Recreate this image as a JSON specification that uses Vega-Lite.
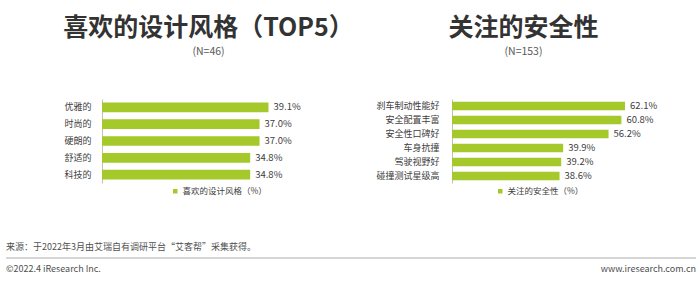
{
  "$schema": "https://vega.github.io/schema/vega-lite/v6.json",
  "background": "white",
  "padding": {"left": 5, "right": 5, "top": 15, "bottom": 5},
  "bounds": "flush",
  "spacing": 148,
  "config": {
    "font": "Noto Sans CJK SC",
    "view": {"stroke": null},
    "axis": {"grid": false, "ticks": false, "domainColor": "#bfbfbf", "domainWidth": 1, "labelFont": "Noto Sans CJK SC", "labelFontSize": 9, "labelColor": "#404040"},
    "legend": {"padding": 0, "labelFont": "Noto Sans CJK SC", "labelFontSize": 8.5, "labelColor": "#404040", "symbolType": "square", "symbolSize": 20, "symbolStrokeWidth": 0, "labelOffset": 3, "title": null}
  },
  "resolve": {"scale": {"x": "independent", "y": "independent", "color": "independent"}, "legend": {"color": "independent"}},
  "datasets": {
    "style": [
      {"item": "优雅的", "share": 0.391},
      {"item": "时尚的", "share": 0.370},
      {"item": "硬朗的", "share": 0.370},
      {"item": "舒适的", "share": 0.348},
      {"item": "科技的", "share": 0.348}
    ],
    "safety": [
      {"item": "刹车制动性能好", "share": 0.621},
      {"item": "安全配置丰富", "share": 0.608},
      {"item": "安全性口碑好", "share": 0.562},
      {"item": "车身抗撞", "share": 0.399},
      {"item": "驾驶视野好", "share": 0.392},
      {"item": "碰撞测试星级高", "share": 0.386}
    ],
    "footer": [
      {"row": "source", "side": "left", "text": "来源：于2022年3月由艾瑞自有调研平台“艾客帮”采集获得。"},
      {"row": "copyright", "side": "left", "text": "©2022.4 iResearch Inc."},
      {"row": "copyright", "side": "right", "text": "www.iresearch.com.cn"}
    ]
  },
  "vconcat": [
    {
      "hconcat": [
        {
          "width": 345,
          "height": 84,
          "title": {"text": "喜欢的设计风格（TOP5）", "subtitle": "(N=46)", "font": "Noto Sans CJK SC", "fontSize": 25, "fontWeight": "bold", "color": "#333333", "subtitleFont": "Noto Sans CJK SC", "subtitleFontSize": 10.5, "subtitleColor": "#595959", "subtitlePadding": 6, "offset": 42, "anchor": "middle", "dx": 30},
          "data": {"name": "style"},
          "encoding": {
            "y": {"field": "item", "type": "nominal", "sort": null, "scale": {"paddingInner": 0.42, "paddingOuter": 0.21}, "axis": {"title": null, "offset": -96, "labelPadding": 11}},
            "x": {"field": "share", "type": "quantitative", "scale": {"domain": [-0.2255, 0.5848], "nice": false, "zero": false}, "axis": null}
          },
          "layer": [
            {
              "mark": {"type": "bar"},
              "encoding": {"color": {"datum": "喜欢的设计风格（%）", "type": "nominal", "scale": {"range": ["#A5C82A"]}, "legend": {"orient": "none", "legendX": 165, "legendY": 88}}}
            },
            {
              "mark": {"type": "text", "align": "left", "baseline": "middle", "dx": 5, "fontSize": 9.5, "color": "#404040"},
              "encoding": {"text": {"field": "share", "format": ".1%"}}
            }
          ]
        },
        {
          "width": 345,
          "height": 84,
          "title": {"text": "关注的安全性", "subtitle": "(N=153)", "font": "Noto Sans CJK SC", "fontSize": 25, "fontWeight": "bold", "color": "#333333", "subtitleFont": "Noto Sans CJK SC", "subtitleFontSize": 10.5, "subtitleColor": "#595959", "subtitlePadding": 6, "offset": 42, "anchor": "middle"},
          "data": {"name": "safety"},
          "encoding": {
            "y": {"field": "item", "type": "nominal", "sort": null, "scale": {"paddingInner": 0.38, "paddingOuter": 0.19}, "axis": {"title": null, "offset": -101, "labelPadding": 13}},
            "x": {"field": "share", "type": "quantitative", "scale": {"domain": [-0.3625, 0.8758], "nice": false, "zero": false}, "axis": null}
          },
          "layer": [
            {
              "mark": {"type": "bar"},
              "encoding": {"color": {"datum": "关注的安全性（%）", "type": "nominal", "scale": {"range": ["#A5C82A"]}, "legend": {"orient": "none", "legendX": 145, "legendY": 88}}}
            },
            {
              "mark": {"type": "text", "align": "left", "baseline": "middle", "dx": 5, "fontSize": 9.5, "color": "#404040"},
              "encoding": {"text": {"field": "share", "format": ".1%"}}
            }
          ]
        }
      ],
      "spacing": 0,
      "bounds": "flush",
      "resolve": {"scale": {"x": "independent", "y": "independent", "color": "independent"}, "legend": {"color": "independent"}}
    },
    {
      "width": 690,
      "height": 22,
      "data": {"name": "footer"},
      "encoding": {
        "x": {"field": "side", "type": "nominal", "scale": {"type": "point", "domain": ["left", "right"], "padding": 0}, "axis": null},
        "y": {"field": "row", "type": "nominal", "scale": {"type": "point", "domain": ["source", "divider", "copyright"], "padding": 0}, "axis": null}
      },
      "layer": [
        {
          "transform": [{"filter": "datum.side === 'left'"}],
          "mark": {"type": "text", "align": "left", "baseline": "middle", "fontSize": 9, "color": "#505050"},
          "encoding": {"text": {"field": "text"}}
        },
        {
          "transform": [{"filter": "datum.side === 'right'"}],
          "mark": {"type": "text", "align": "right", "baseline": "middle", "fontSize": 9, "color": "#505050"},
          "encoding": {"text": {"field": "text"}}
        },
        {
          "data": {"values": [{"row": "divider"}]},
          "mark": {"type": "rule", "color": "#c8c8c8", "strokeWidth": 1.5},
          "encoding": {"y": {"field": "row", "type": "nominal"}, "x": {"datum": "left"}, "x2": {"datum": "right"}}
        }
      ]
    }
  ]
}
